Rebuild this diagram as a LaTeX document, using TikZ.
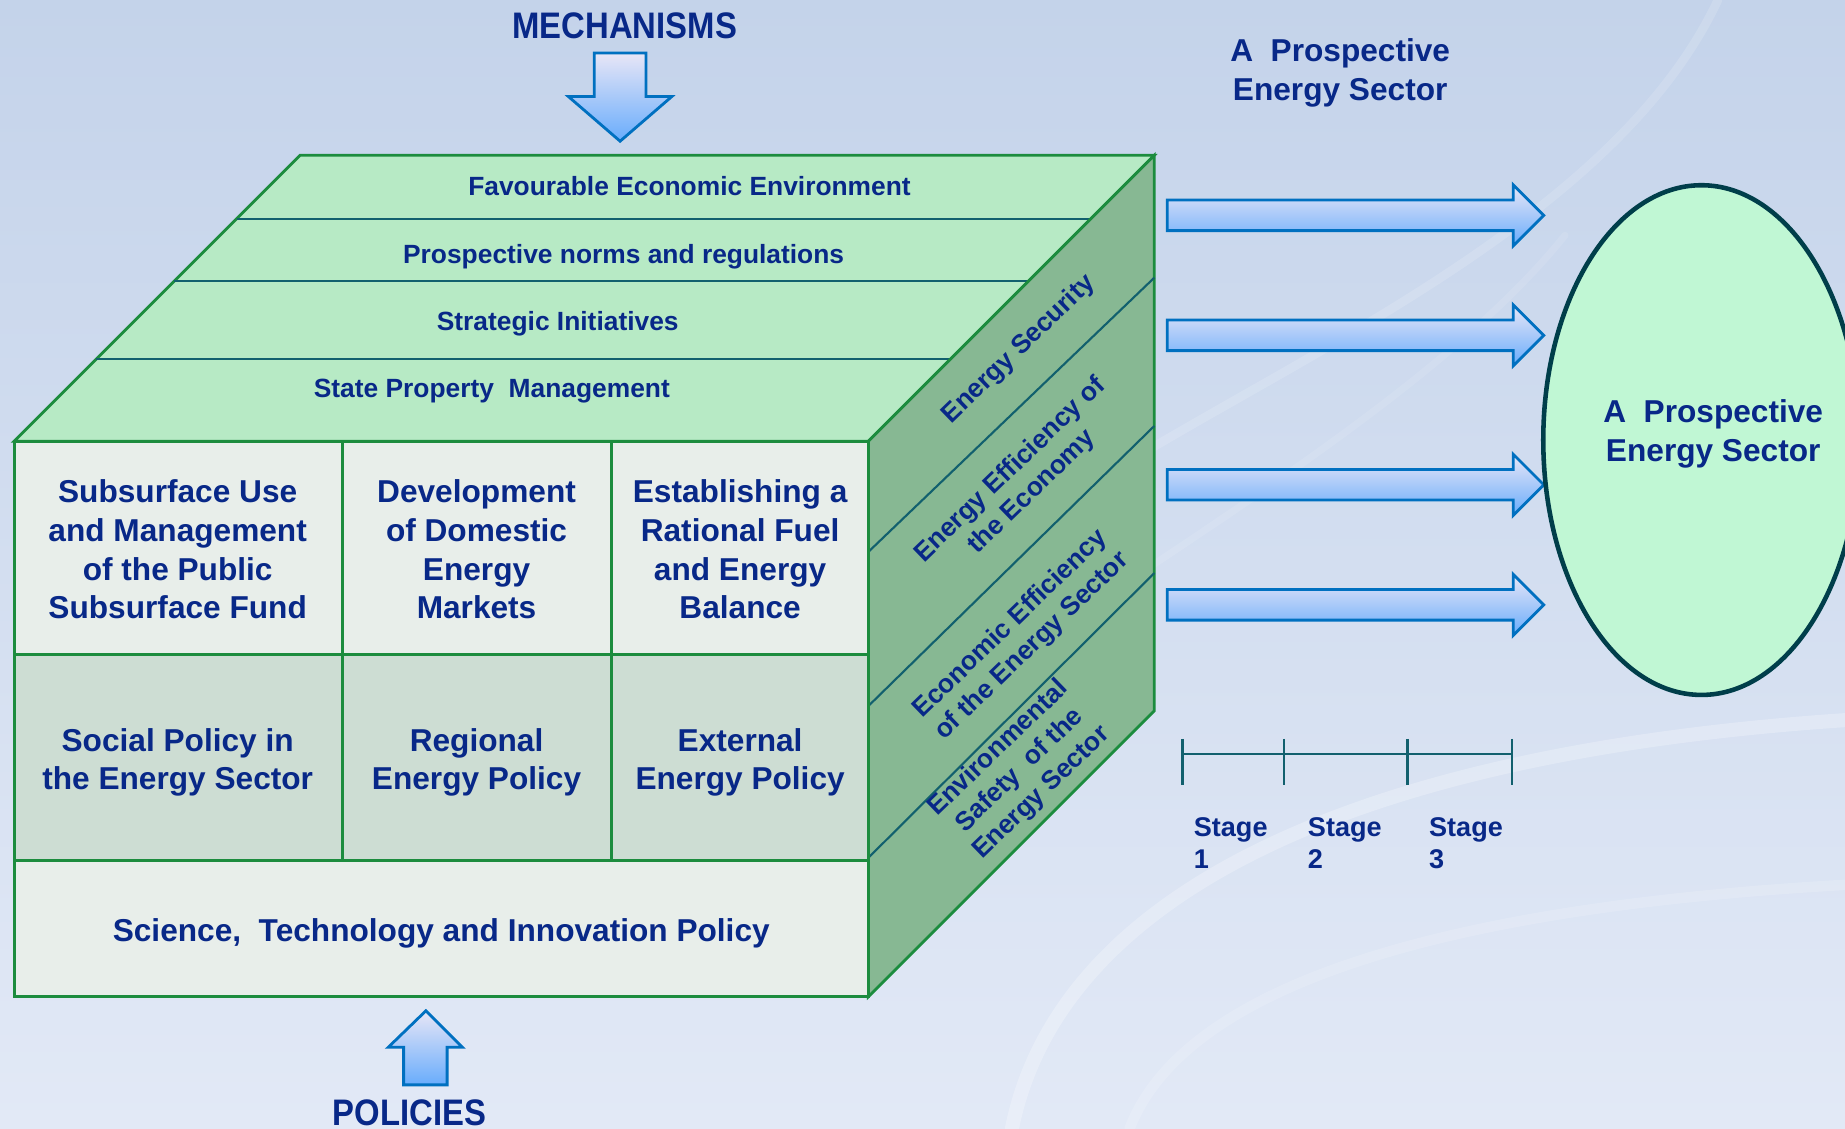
\documentclass[tikz,border=0pt]{standalone}
\usepackage{fontspec}
\setmainfont{Liberation Sans}
\newfontfamily\narrowfont{Liberation Sans}[FakeStretch=0.89]
\usetikzlibrary{positioning}
\usetikzlibrary{shapes.geometric}

\definecolor{navytext}{RGB}{8,40,136}
\definecolor{topgreen}{RGB}{183,234,197}
\definecolor{sidegreen}{RGB}{135,184,147}
\definecolor{cubegreen}{RGB}{28,140,62}
\definecolor{bandteal}{RGB}{18,96,110}
\definecolor{frontlight}{RGB}{232,238,234}
\definecolor{frontdark}{RGB}{205,221,211}
\definecolor{arrowblue}{RGB}{0,112,192}
\definecolor{arrowtop}{RGB}{232,230,246}
\definecolor{arrowbottom}{RGB}{104,172,252}
\definecolor{goalgreen}{RGB}{192,247,212}
\definecolor{goaledge}{RGB}{0,62,74}
\definecolor{bgtop}{RGB}{196,211,234}
\definecolor{bgbottom}{RGB}{226,233,246}

\tikzset{
  boxtext/.style={text=navytext, font=\bfseries\fontsize{9}{11}\selectfont, align=center},
  bandtext/.style={text=navytext, font=\bfseries\fontsize{7.5}{9}\selectfont},
  sidetext/.style={text=navytext, font=\bfseries\fontsize{7.5}{8.8}\selectfont, align=center, rotate=44, inner sep=0.5pt},
  stagetext/.style={text=navytext, font=\bfseries\fontsize{7.7}{9}\selectfont, align=left, anchor=base west, inner sep=0pt},
  bigtext/.style={text=navytext, font=\narrowfont\bfseries\fontsize{10.5}{12}\selectfont, inner sep=1pt},
  cubeline/.style={draw=cubegreen, line width=0.8pt},
  bandline/.style={draw=bandteal, line width=0.6pt},
  blockarrow/.style={draw=arrowblue, line width=0.8pt, top color=arrowtop, bottom color=arrowbottom},
  stageline/.style={draw=bandteal, line width=0.7pt},
  swoosh/.style={white, line cap=round},
}

\begin{document}
\begin{tikzpicture}[x=0.01177cm, y=-0.01177cm]
  \useasboundingbox (0,0) rectangle (1568,959);
  \clip (0,0) rectangle (1568,959);
  \shade[top color=bgtop, bottom color=bgbottom] (0,0) rectangle (1568,959);
  \draw[swoosh, opacity=0.25, line width=4pt] (860,959) .. controls (900,760) and (1150,640) .. (1568,612);
  \draw[swoosh, opacity=0.15, line width=3pt] (960,959) .. controls (1010,830) and (1250,770) .. (1568,752);
  \draw[swoosh, opacity=0.14, line width=2.5pt] (980,380) .. controls (1150,280) and (1380,170) .. (1460,0);
  \draw[swoosh, opacity=0.1, line width=2pt] (980,480) .. controls (1100,400) and (1250,300) .. (1330,200);

  % top face
  \draw[cubeline, fill=topgreen] (12,375) -- (255,132) -- (981,132) -- (738,375) -- cycle;
  \foreach \y in {186,239,305} \draw[bandline] ({12+375-\y},\y) -- ({738+375-\y},\y);

  % side face
  \draw[cubeline, fill=sidegreen] (738,375) -- (981,132) -- (981,604) -- (738,847) -- cycle;
  \draw[bandline] (738,469) -- (981,236);
  \draw[bandline] (738,600) -- (981,362);
  \draw[bandline] (738,729) -- (981,487);

  % front face
  \fill[frontlight] (12,375) rectangle (738,556);
  \fill[frontdark] (12,556) rectangle (738,731);
  \fill[frontlight] (12,731) rectangle (738,847);
  \draw[cubeline] (12,375) rectangle (738,847);
  \draw[cubeline] (12,556) -- (738,556);
  \draw[cubeline] (12,731) -- (738,731);
  \foreach \x in {291,520} \draw[cubeline] (\x,375) -- (\x,731);

  \node[bandtext] (favourable) at (586,158) {Favourable Economic Environment};
  \node[bandtext] (norms) at (530,218) {Prospective norms and regulations};
  \node[bandtext] (initiatives) at (474,275) {Strategic Initiatives};
  \node[bandtext] (property) at (418,332) {State Property~ Management};

  \node[sidetext] (security) at (866,297) {Energy Security};
  \node[sidetext] (effeconomy) at (868,409) {Energy Efficiency of\\the Economy};
  \node[sidetext] (effsector) at (868,540) {Economic Efficiency\\of the Energy Sector};
  \node[sidetext] (ecosafety) at (867,655) {Environmental\\Safety~ of the\\Energy Sector};

  \node[boxtext] (subsurface) at (151,467) {Subsurface Use\\and Management\\of the Public\\Subsurface Fund};
  \node[boxtext] (markets) at (405,467) {Development\\of Domestic\\Energy\\Markets};
  \node[boxtext] (balance) at (629,467) {Establishing a\\Rational Fuel\\and Energy\\Balance};
  \node[boxtext] (social) at (151,648) {Social Policy in\\the Energy Sector};
  \node[boxtext] (regional) at (405,648) {Regional\\Energy Policy};
  \node[boxtext] (external) at (629,648) {External\\Energy Policy};
  \node[boxtext] (science) at (375,793) {Science,~ Technology and Innovation Policy};

  % mechanisms and policies
  \node[bigtext] (mechanisms) at (531,22) {MECHANISMS};
  \draw[blockarrow] (505,45) -- (549,45) -- (549,82) -- (571,82) -- (527,120) -- (483,82) -- (505,82) -- cycle;
  \draw[blockarrow] (343,922) -- (380,922) -- (380,890) -- (393,890) -- (362,859) -- (330,890) -- (343,890) -- cycle;
  \node[bigtext] (policies) at (348,946) {POLICIES};

  % prospective sector
  \node[boxtext] (heading) at (1139,62) {A~~Prospective\\Energy Sector};
  \foreach \y in {183,285,412,514}
    \draw[blockarrow] (992,{\y-13}) -- (1286,{\y-13}) -- (1286,{\y-26}) -- (1312,\y) -- (1286,{\y+26}) -- (1286,{\y+13}) -- (992,{\y+13}) -- cycle;
  \node[ellipse, draw=goaledge, line width=1.3pt, fill=goalgreen, minimum width=90pt, minimum height=145pt] (goal) at (1446,374) {};
  \node[boxtext] (goaltext) at (1456,369) {A~~Prospective\\Energy Sector};

  % stages
  \draw[stageline] (1005,641) -- (1285,641);
  \foreach \x in {1005,1091,1196,1285} \draw[stageline] (\x,628) -- (\x,667);
  \node[stagetext] (stage1) at (1014,738) {Stage\\1};
  \node[stagetext] (stage2) at (1111,738) {Stage\\2};
  \node[stagetext] (stage3) at (1214,738) {Stage\\3};
\end{tikzpicture}
\end{document}
